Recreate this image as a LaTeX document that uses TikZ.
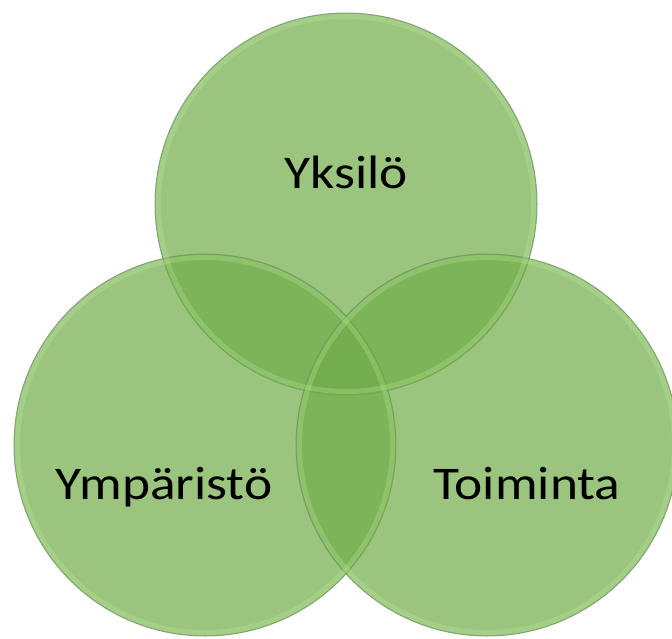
\documentclass[tikz,border=0pt]{standalone}
\usepackage{fontspec}
\setmainfont{Carlito}
\definecolor{vgreen}{RGB}{112,171,73}
\definecolor{vedge}{RGB}{118,150,105}
\definecolor{vglow}{RGB}{185,235,150}
\tikzset{
  venn/.style={circle, minimum size=382bp, inner sep=0pt, outer sep=0pt,
    fill=vgreen, fill opacity=0.7, draw=vedge, draw opacity=0.8, line width=1bp},
  lbl/.style={font=\fontsize{47}{50}\selectfont, text=black, inner sep=0pt, anchor=base}
}
\newcommand{\widetext}[1]{\scalebox{1.14}[1]{#1}}
\begin{document}
\begin{tikzpicture}[x=1bp,y=-1bp]
\path[use as bounding box] (0,0) rectangle (672,639);
\clip (0,0) rectangle (672,639);
\node[venn] (top) at (346,204) {};
\node[venn] (left) at (205,445) {};
\node[venn] (right) at (487,445) {};
\foreach \c in {top,left,right}{
  \begin{scope}
    \clip (\c.center) circle (190bp);
    \draw[vglow, opacity=0.3, line width=10bp] (\c.center) circle (190bp);
  \end{scope}
}
\node[lbl] (t1) at (346,189) {\widetext{Yksilö}};
\node[lbl] (t2) at (164,499) {\widetext{Ympäristö}};
\node[lbl] (t3) at (527,499) {\widetext{Toiminta}};
\end{tikzpicture}
\end{document}
